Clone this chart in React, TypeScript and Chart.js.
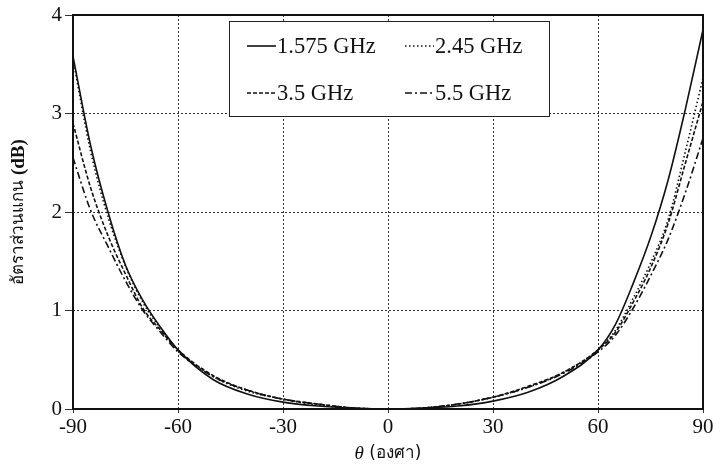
import React, { useEffect, useRef } from "react";
import { Chart, registerables } from "chart.js";

Chart.register(...registerables);

// Angle (degrees)
const THETA = [-90, -85, -80, -75, -70, -65, -60, -50, -40, -30, -20, -10, 0, 10, 20, 30, 40, 50, 60, 65, 70, 75, 80, 85, 90];
// Axial ratio (dB) per frequency
const AR_1575 = [3.58, 2.68, 2.0, 1.46, 1.1, 0.83, 0.6, 0.3, 0.15, 0.07, 0.03, 0.01, 0, 0.01, 0.03, 0.08, 0.17, 0.33, 0.6, 0.86, 1.27, 1.74, 2.32, 3.05, 3.85];
const AR_245 = [3.55, 2.62, 1.95, 1.45, 1.08, 0.82, 0.6, 0.33, 0.18, 0.1, 0.04, 0.01, 0, 0.01, 0.05, 0.12, 0.22, 0.37, 0.6, 0.8, 1.12, 1.48, 1.92, 2.62, 3.36];
const AR_35 = [2.9, 2.25, 1.76, 1.37, 1.02, 0.8, 0.6, 0.34, 0.19, 0.1, 0.05, 0.01, 0, 0.01, 0.05, 0.12, 0.23, 0.37, 0.6, 0.78, 1.08, 1.43, 1.88, 2.5, 3.12];
const AR_55 = [2.55, 2.02, 1.65, 1.3, 1.0, 0.78, 0.58, 0.33, 0.19, 0.1, 0.05, 0.01, 0, 0.01, 0.05, 0.12, 0.22, 0.36, 0.58, 0.75, 1.02, 1.35, 1.72, 2.2, 2.75];

const SERIES_LABELS = ["1.575 GHz", "2.45 GHz", "3.5 GHz", "5.5 GHz"];
const SERIES_VALUES = [AR_1575, AR_245, AR_35, AR_55];
const SERIES_DASH = [[], [1.5, 2.5], [4, 2], [7, 3, 2, 3]];

const X_TICKS = [-90, -60, -30, 0, 30, 60, 90];
const Y_TICKS = [0, 1, 2, 3, 4];

const X_TITLE_SYMBOL = "θ";
const X_TITLE_UNIT = " (องศา)";
const Y_TITLE_TEXT = "อัตราส่วนแกน";
const Y_TITLE_UNIT = " (dB)";

const SERIF = "'Liberation Serif', 'Times New Roman', serif";
const SANS = "'DejaVu Sans', 'Noto Sans', sans-serif";

const framePlugin = {
  id: "frame",
  beforeDraw(chart: any) {
    const { ctx } = chart;
    ctx.save();
    ctx.fillStyle = "#ffffff";
    ctx.fillRect(0, 0, chart.width, chart.height);
    ctx.restore();
  },
  afterDatasetsDraw(chart: any) {
    const { ctx, chartArea: a } = chart;
    ctx.save();
    ctx.strokeStyle = "#111";
    ctx.lineWidth = 2;
    ctx.setLineDash([]);
    ctx.strokeRect(a.left, a.top, a.right - a.left, a.bottom - a.top);
    ctx.restore();
  },
};

const titlesPlugin = {
  id: "axisTitles",
  afterDraw(chart: any) {
    const { ctx, chartArea: a } = chart;
    ctx.save();
    ctx.fillStyle = "#111";
    ctx.textBaseline = "middle";
    ctx.textAlign = "left";
    // x title
    const f1 = `italic 19px ${SERIF}`;
    const f2 = `17px ${SANS}`;
    ctx.font = f1;
    const w1 = ctx.measureText(X_TITLE_SYMBOL).width;
    ctx.font = f2;
    const w2 = ctx.measureText(X_TITLE_UNIT).width;
    const cx = (a.left + a.right) / 2;
    let x0 = cx - (w1 + w2) / 2;
    ctx.font = f1;
    ctx.fillText(X_TITLE_SYMBOL, x0, 454);
    ctx.font = f2;
    ctx.fillText(X_TITLE_UNIT, x0 + w1, 454);
    // y title (rotated)
    const g1 = `17px ${SANS}`;
    const g2 = `bold 19px ${SERIF}`;
    ctx.font = g1;
    const v1 = ctx.measureText(Y_TITLE_TEXT).width;
    ctx.font = g2;
    const v2 = ctx.measureText(Y_TITLE_UNIT).width;
    const cy = (a.top + a.bottom) / 2;
    ctx.translate(19, cy);
    ctx.rotate(-Math.PI / 2);
    const s0 = -(v1 + v2) / 2;
    ctx.font = g1;
    ctx.fillText(Y_TITLE_TEXT, s0, 0);
    ctx.font = g2;
    ctx.fillText(Y_TITLE_UNIT, s0 + v1, 0);
    ctx.restore();
  },
};

const boxLegendPlugin = {
  id: "boxLegend",
  afterDraw(chart: any) {
    const { ctx } = chart;
    const box = { x: 229, y: 21, w: 320, h: 95 };
    ctx.save();
    ctx.fillStyle = "#fff";
    ctx.fillRect(box.x, box.y, box.w, box.h);
    ctx.strokeStyle = "#222";
    ctx.lineWidth = 1;
    ctx.setLineDash([]);
    ctx.strokeRect(box.x + 0.5, box.y + 0.5, box.w, box.h);
    const cols = [247, 405];
    const rows = [46, 93];
    ctx.font = `22.5px ${SERIF}`;
    ctx.textBaseline = "middle";
    ctx.fillStyle = "#111";
    chart.data.datasets.forEach((ds: any, i: number) => {
      const lx = cols[i % 2];
      const ly = rows[Math.floor(i / 2)];
      ctx.strokeStyle = "#111";
      ctx.lineWidth = 1.6;
      ctx.setLineDash(ds.borderDash || []);
      ctx.beginPath();
      ctx.moveTo(lx, ly);
      ctx.lineTo(lx + 29, ly);
      ctx.stroke();
      ctx.setLineDash([]);
      ctx.fillText(ds.label, lx + 30, ly + 1);
    });
    ctx.restore();
  },
};

export default function App() {
  const ref = useRef<HTMLCanvasElement | null>(null);

  useEffect(() => {
    if (!ref.current) return;
    const datasets = SERIES_LABELS.map((label, i) => ({
      label,
      data: THETA.map((t, k) => ({ x: t, y: SERIES_VALUES[i][k] })),
      borderColor: "#111",
      borderWidth: 1.6,
      borderDash: SERIES_DASH[i],
      pointRadius: 0,
      fill: false,
      cubicInterpolationMode: "monotone" as const,
    }));

    const chart = new Chart(ref.current, {
      type: "line",
      data: { datasets },
      plugins: [framePlugin, titlesPlugin, boxLegendPlugin],
      options: {
        responsive: false,
        animation: false,
        layout: { padding: { left: 0, right: 10, top: 15, bottom: 0 } },
        plugins: {
          legend: { display: false },
          tooltip: { enabled: false },
        },
        scales: {
          x: {
            type: "linear",
            min: -90,
            max: 90,
            afterBuildTicks: (s: any) => {
              s.ticks = X_TICKS.map((v) => ({ value: v }));
            },
            afterFit: (s: any) => {
              s.height = 58;
              s.paddingLeft = 0;
              s.paddingRight = 0;
            },
            ticks: {
              color: "#111",
              font: { family: SERIF, size: 21 },
              padding: 2,
              maxRotation: 0,
              autoSkip: false,
            },
            grid: {
              color: "#333",
              lineWidth: 1,
              tickLength: 4,
              drawTicks: true,
            },
            border: { display: false, dash: [2, 2] },
            title: { display: false },
          },
          y: {
            type: "linear",
            min: 0,
            max: 4,
            afterBuildTicks: (s: any) => {
              s.ticks = Y_TICKS.map((v) => ({ value: v }));
            },
            afterFit: (s: any) => {
              s.width = 73;
              s.paddingTop = 0;
              s.paddingBottom = 0;
            },
            ticks: {
              color: "#111",
              font: { family: SERIF, size: 21 },
              padding: 3,
            },
            grid: {
              color: "#333",
              lineWidth: 1,
              tickLength: 8,
              drawTicks: true,
            },
            border: { display: false, dash: [2, 2] },
            title: { display: false },
          },
        },
      },
    });
    return () => chart.destroy();
  }, []);

  return (
    <div style={{ position: "fixed", left: 0, top: 0, width: 713, height: 467, background: "#fff" }}>
      <canvas ref={ref} width={713} height={467} style={{ width: 713, height: 467 }} />
    </div>
  );
}
